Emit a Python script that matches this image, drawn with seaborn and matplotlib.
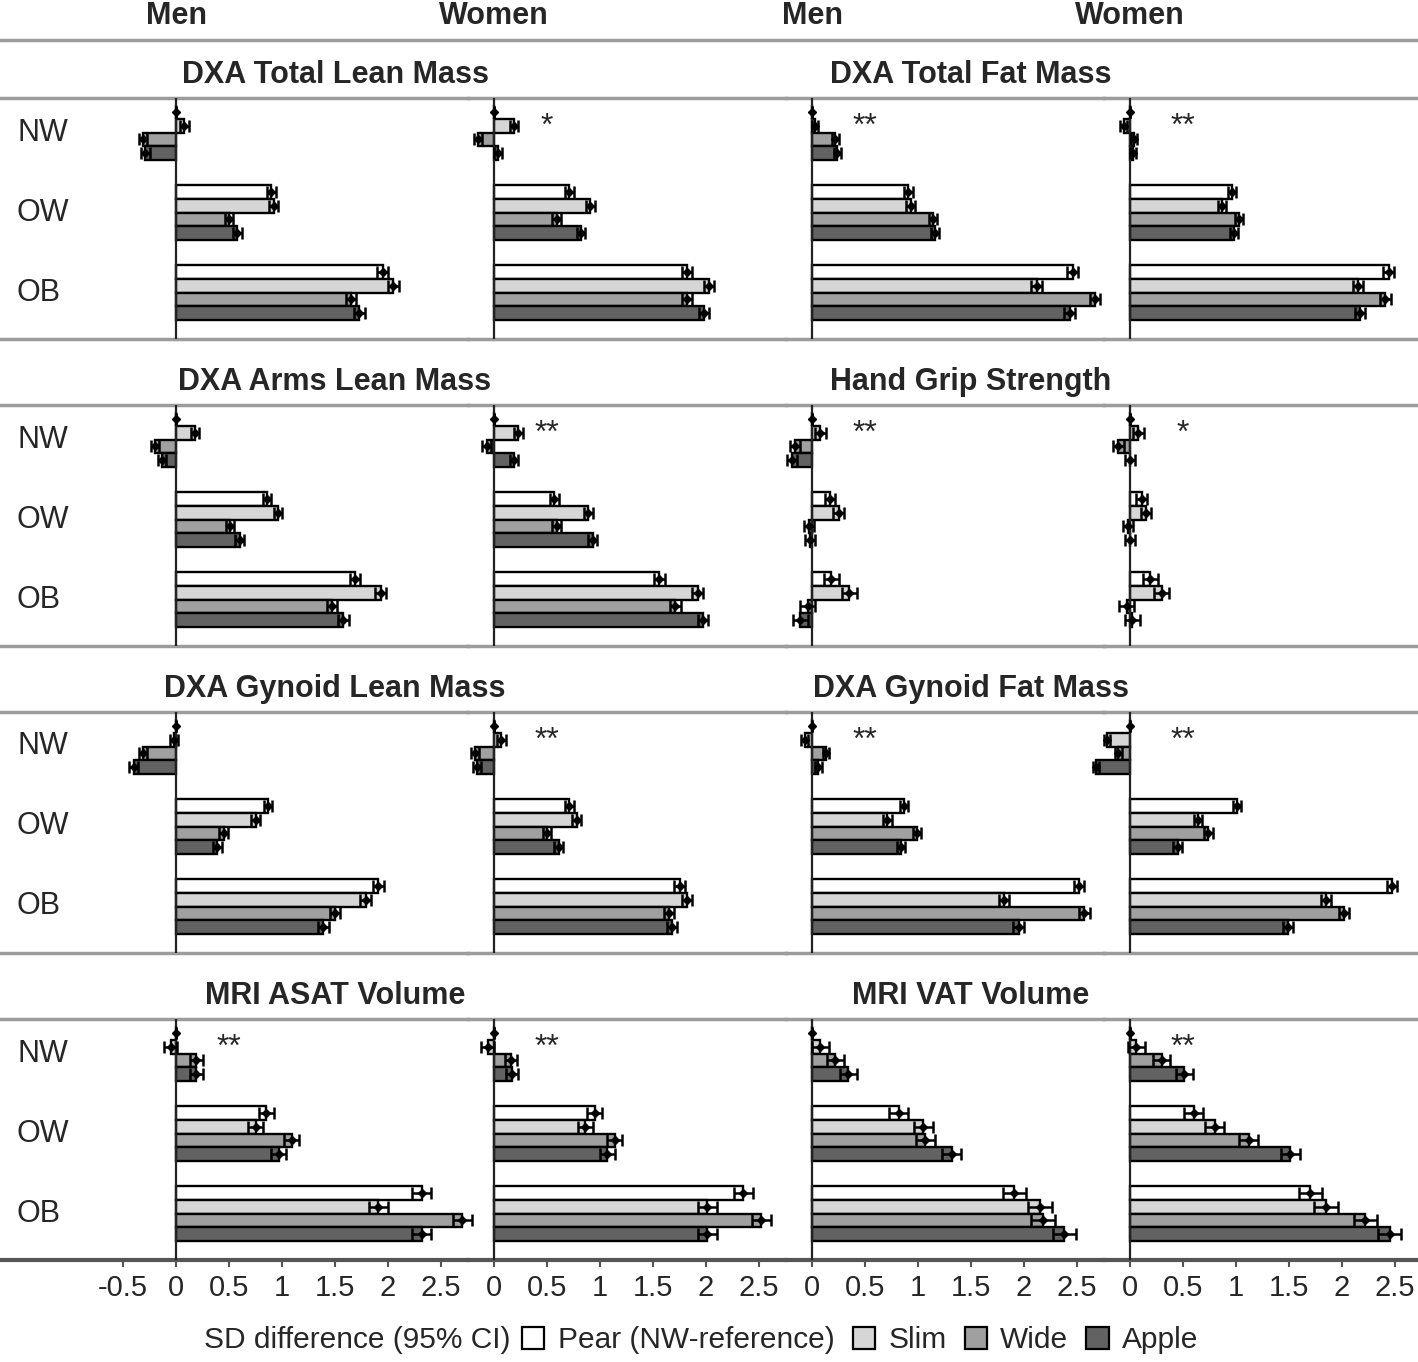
import pandas as pd
import matplotlib.pyplot as plt
import seaborn as sns
from matplotlib import font_manager
from matplotlib.patches import Patch
from matplotlib.lines import Line2D
import matplotlib.transforms as mtransforms

# ---- data (SD difference vs NW pear; order: NW, OW, OB x Pear, Slim, Wide, Apple)
groups = ["NW", "OW", "OB"]
shapes = ["Pear", "Slim", "Wide", "Apple"]
shape_labels = ["Pear (NW-reference)", "Slim", "Wide", "Apple"]
shape_colors = ["#ffffff", "#d6d6d6", "#a0a0a0", "#626262"]

lean_men = [0, 0.08, -0.31, -0.29, 0.90, 0.92, 0.50, 0.58, 1.95, 2.05, 1.65, 1.73]
lean_women = [0, 0.19, -0.15, 0.04, 0.71, 0.91, 0.59, 0.82, 1.82, 2.03, 1.82, 1.98]
fat_men = [0, 0.03, 0.22, 0.24, 0.91, 0.93, 1.14, 1.16, 2.46, 2.12, 2.67, 2.43]
fat_women = [0, -0.06, 0.04, 0.03, 0.96, 0.87, 1.03, 0.98, 2.44, 2.15, 2.41, 2.17]
arms_men = [0, 0.18, -0.20, -0.13, 0.86, 0.96, 0.51, 0.60, 1.69, 1.93, 1.47, 1.58]
arms_women = [0, 0.23, -0.07, 0.19, 0.57, 0.89, 0.59, 0.93, 1.56, 1.92, 1.71, 1.97]
grip_men = [0, 0.08, -0.16, -0.19, 0.17, 0.25, -0.03, -0.02, 0.18, 0.35, -0.04, -0.11]
grip_women = [0, 0.08, -0.11, 0.0, 0.11, 0.15, -0.02, 0.0, 0.19, 0.30, -0.03, 0.02]
gyn_lean_men = [0, -0.02, -0.31, -0.40, 0.87, 0.75, 0.45, 0.39, 1.91, 1.79, 1.50, 1.39]
gyn_lean_women = [0, 0.07, -0.18, -0.16, 0.71, 0.78, 0.50, 0.61, 1.75, 1.82, 1.65, 1.68]
gyn_fat_men = [0, -0.07, 0.13, 0.06, 0.87, 0.71, 0.99, 0.84, 2.52, 1.81, 2.57, 1.95]
gyn_fat_women = [0, -0.22, -0.11, -0.32, 1.01, 0.64, 0.74, 0.45, 2.47, 1.85, 2.02, 1.49]
asat_men = [0, -0.05, 0.19, 0.19, 0.85, 0.75, 1.09, 0.97, 2.32, 1.91, 2.70, 2.32]
asat_women = [0, -0.06, 0.16, 0.17, 0.95, 0.86, 1.14, 1.07, 2.35, 2.01, 2.52, 2.01]
vat_men = [0, 0.08, 0.22, 0.34, 0.82, 1.05, 1.07, 1.32, 1.91, 2.15, 2.18, 2.38]
vat_women = [0, 0.06, 0.30, 0.51, 0.60, 0.80, 1.12, 1.51, 1.70, 1.85, 2.22, 2.45]

# 95% CI half width per weight group (NW, OW, OB)
ci_lean = [0.04, 0.04, 0.05]
ci_fat = [0.03, 0.04, 0.05]
ci_grip = [0.05, 0.05, 0.07]
ci_asat = [0.06, 0.07, 0.09]
ci_vat = [0.08, 0.09, 0.11]

titles = ["DXA Total Lean Mass", "DXA Total Fat Mass",
          "DXA Arms Lean Mass", "Hand Grip Strength",
          "DXA Gynoid Lean Mass", "DXA Gynoid Fat Mass",
          "MRI ASAT Volume", "MRI VAT Volume"]
sexes = ["Men", "Women", "Men", "Women"]

panels = [
    [(lean_men, ci_lean, ""), (lean_women, ci_lean, "*"), (fat_men, ci_fat, "**"), (fat_women, ci_fat, "**")],
    [(arms_men, ci_lean, ""), (arms_women, ci_lean, "**"), (grip_men, ci_grip, "**"), (grip_women, ci_grip, "*")],
    [(gyn_lean_men, ci_lean, ""), (gyn_lean_women, ci_lean, "**"), (gyn_fat_men, ci_fat, "**"), (gyn_fat_women, ci_fat, "**")],
    [(asat_men, ci_asat, "**"), (asat_women, ci_asat, "**"), (vat_men, ci_vat, ""), (vat_women, ci_vat, "**")],
]

ticks_first = [-0.5, 0, 0.5, 1, 1.5, 2, 2.5]
tick_labels_first = ["-0.5", "0", "0.5", "1", "1.5", "2", "2.5"]
ticks = [0, 0.5, 1, 1.5, 2, 2.5]
tick_labels = ["0", "0.5", "1", "1.5", "2", "2.5"]

# ---- layout (pixels)
W, H = 1418, 1362
row_tops = [98, 405, 712, 1019]
row_h = 241
col_edges = [0, 468, 786, 1104, 1418]
zero_px = [176, 494, 812, 1130]
unit_px = 106.0

sns.set_theme(style="white")
plt.rcParams["font.family"] = ["Liberation Sans", "DejaVu Sans"]
names = {f.name for f in font_manager.fontManager.ttflist}
narrow = "Liberation Sans Narrow" if "Liberation Sans Narrow" in names else "Liberation Sans"

fig = plt.figure(figsize=(W / 100, H / 100), dpi=100)
line_gray = "#9c9c9c"


def make_df(values):
    rows = []
    for i, v in enumerate(values):
        rows.append({"group": groups[i // 4], "shape": shapes[i % 4], "value": v})
    return pd.DataFrame(rows)


for r in range(4):
    for c in range(4):
        x0, x1 = col_edges[c], col_edges[c + 1]
        ax = fig.add_axes([x0 / W, 1 - (row_tops[r] + row_h) / H, (x1 - x0) / W, row_h / H])
        ax.patch.set_alpha(0)
        values, ci, star = panels[r][c]
        df = make_df(values)
        sns.barplot(data=df, x="value", y="group", hue="shape", order=groups,
                    hue_order=shapes, orient="h", palette=shape_colors,
                    edgecolor="black", linewidth=1.7, errorbar=None,
                    width=0.68, gap=0, legend=False, ax=ax, zorder=2)
        bars = sorted(ax.patches, key=lambda p: p.get_y() + p.get_height() / 2)
        for k, p in enumerate(bars):
            p.set_clip_on(False)
            xe = p.get_x() + p.get_width()
            ye = p.get_y() + p.get_height() / 2
            half = 0.0 if k == 0 else ci[k // 4]
            eb = ax.errorbar(xe, ye, xerr=half, fmt="D", ms=4, color="black",
                             elinewidth=1.8, capsize=4, capthick=1.8, zorder=4)
            for art in eb.get_children():
                art.set_clip_on(False)
        ax.axvline(0, color="#222222", lw=1.6, zorder=3)
        ax.set_xlim((x0 - zero_px[c]) / unit_px, (x1 - zero_px[c]) / unit_px)
        ax.set_ylim((row_h - 34.5) / 80, -34.5 / 80)
        ax.set_xlabel("")
        ax.set_ylabel("")
        ax.set_yticks([])
        for side in ["left", "right"]:
            ax.spines[side].set_visible(False)
        for side in ["top", "bottom"]:
            ax.spines[side].set_color(line_gray)
            ax.spines[side].set_linewidth(2.5)
        if star:
            ax.text(0.5, -0.07, star, ha="center", va="center", fontsize=23)
        if c == 0:
            for gi, g in enumerate(groups):
                ax.text(-1.5, gi, g, ha="left", va="center", fontsize=22)
        if c in (1, 3):
            tr = mtransforms.blended_transform_factory(ax.transData, ax.transAxes)
            ax.text(-1.5, 1 + 23 / row_h, titles[r * 2 + c // 2], transform=tr,
                    ha="center", va="center", fontsize=22, fontweight="bold")
        if r == 0:
            tr = mtransforms.blended_transform_factory(ax.transData, ax.transAxes)
            ax.text(0, 1 + 82 / row_h, sexes[c], transform=tr, ha="center",
                    va="center", fontsize=22, fontweight="bold")
        if r == 3:
            ax.spines["bottom"].set_color("#555555")
            ax.spines["bottom"].set_linewidth(3)
            if c == 0:
                ax.set_xticks(ticks_first)
                ax.set_xticklabels(tick_labels_first, fontfamily=narrow)
            else:
                ax.set_xticks(ticks)
                ax.set_xticklabels(tick_labels, fontfamily=narrow)
            ax.tick_params(axis="x", bottom=True, direction="out", length=5,
                           width=1.5, color="#555555", labelsize=21, pad=5)
        else:
            ax.set_xticks([])

# header separator line
fig.add_artist(Line2D([0, 1], [1 - 40 / H] * 2, transform=fig.transFigure,
                      color=line_gray, lw=2.5))

# legend
fig.text(510 / W, 1 - 1340 / H, "SD difference (95% CI)", ha="right", va="center",
         fontsize=21.5)
handles = [Patch(facecolor=col, edgecolor="black", linewidth=1.6) for col in shape_colors]
fig.legend(handles, shape_labels, loc="center left", bbox_to_anchor=(522 / W, 1 - 1340 / H),
           ncol=4, frameon=False, fontsize=21.5, handlelength=0.75, handleheight=0.75,
           handletextpad=0.45, columnspacing=0.6, borderaxespad=0, borderpad=0)

fig.savefig("out.png", dpi=100)
